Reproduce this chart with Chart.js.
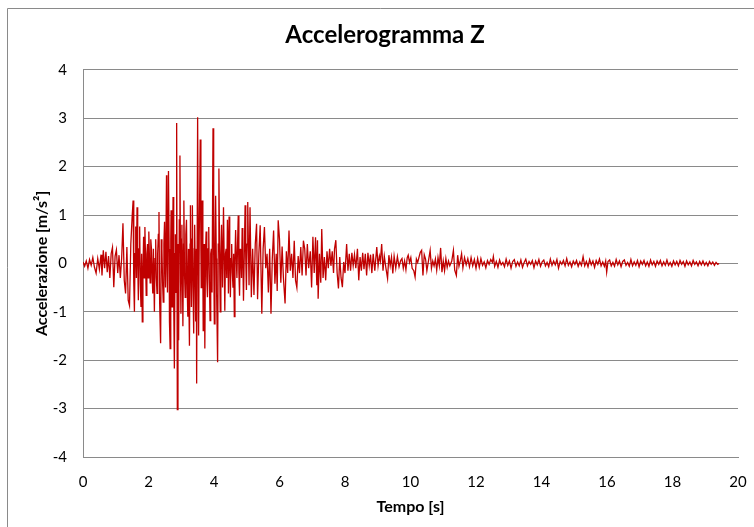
<!DOCTYPE html>
<html lang="it">
<head>
    <meta charset="UTF-8">
    <title>Accelerogramma Z</title>
    <script src="https://cdn.jsdelivr.net/npm/chart.js"></script>
    <style>
        body {
            margin: 0;
            background: #fff;
        }
        #chart {
            display: block;
        }
    </style>
</head>
<body>

    <canvas id="chart" width="754" height="527"></canvas>

    <script>

        // 0 - 1.5 s: inizio
        const tempoInizio = [
            0.00, 0.05, 0.10, 0.15, 0.20, 0.25, 0.30, 0.35, 0.40, 0.45,
            0.50, 0.55, 0.58, 0.62, 0.66, 0.70, 0.74, 0.78, 0.82, 0.86,
            0.90, 0.94, 0.98, 1.02, 1.06, 1.10, 1.14, 1.18, 1.22, 1.26,
            1.30, 1.34, 1.38, 1.42, 1.46
        ];
        const accInizio = [
            0.03, -0.06, 0.05, -0.10, 0.08, -0.04, 0.12, -0.08, -0.20, 0.10,
            -0.12, 0.18, -0.25, 0.27, -0.10, 0.24, -0.18, 0.15, -0.30, 0.20,
            0.33, -0.49, 0.15, 0.28, -0.20, 0.17, -0.30, 0.10, 0.83, -0.35,
            -0.62, 0.34, -0.76, -0.87, 0.40
        ];

        // 1.5 - 5 s: fase forte
        const tempoForte = [
            1.50, 1.53, 1.55, 1.57, 1.59, 1.61, 1.63, 1.65, 1.67, 1.69,
            1.71, 1.73, 1.75, 1.77, 1.79, 1.81, 1.83, 1.85, 1.87, 1.89,
            1.91, 1.93, 1.95, 1.97, 1.99, 2.01, 2.03, 2.05, 2.07, 2.09,
            2.11, 2.13, 2.15, 2.18, 2.20, 2.22, 2.24, 2.26, 2.28, 2.30,
            2.32, 2.34, 2.37, 2.39, 2.41, 2.43, 2.45, 2.47, 2.49, 2.51,
            2.52, 2.55, 2.56, 2.58, 2.61, 2.63, 2.64, 2.66, 2.68, 2.69,
            2.71, 2.72, 2.74, 2.75, 2.77, 2.79, 2.81, 2.82, 2.84, 2.86,
            2.88, 2.90, 2.92, 2.94, 2.96, 2.98, 2.99, 3.01, 3.02, 3.04,
            3.05, 3.07, 3.08, 3.10, 3.12, 3.14, 3.16, 3.18, 3.20, 3.22,
            3.23, 3.25, 3.27, 3.28, 3.30, 3.31, 3.33, 3.34, 3.36, 3.38,
            3.40, 3.41, 3.43, 3.44, 3.46, 3.47, 3.50, 3.52, 3.53, 3.55,
            3.58, 3.60, 3.61, 3.63, 3.64, 3.66, 3.67, 3.69, 3.70, 3.72,
            3.74, 3.76, 3.78, 3.80, 3.82, 3.84, 3.86, 3.88, 3.90, 3.92,
            3.94, 3.97, 3.99, 4.01, 4.03, 4.05, 4.07, 4.08, 4.11, 4.13,
            4.15, 4.17, 4.19, 4.21, 4.23, 4.25, 4.26, 4.29, 4.31, 4.33,
            4.35, 4.37, 4.39, 4.41, 4.43, 4.44, 4.46, 4.48, 4.50, 4.52,
            4.54, 4.56, 4.58, 4.60, 4.62, 4.64, 4.66, 4.68, 4.70, 4.72,
            4.74, 4.76, 4.78, 4.80, 4.82, 4.84, 4.86, 4.88, 4.90, 4.93,
            4.95, 4.97, 4.99, 5.01, 5.03
        ];
        const accForte = [
            0.96, 1.30, -0.40, -1.00, 0.20, 0.76, -0.30, 1.16, 0.10, -0.76,
            0.30, 0.76, -0.40, -0.90, 0.20, -1.21, -0.20, 0.55, -0.30, 0.75,
            0.10, -0.66, 0.20, 0.40, -0.30, 0.66, 0.10, -0.40, 0.50, 0.30,
            -0.20, -0.62, 0.30, -1.00, 0.10, 0.50, -0.30, -0.62, 0.20, 0.60,
            1.06, -0.80, -1.65, 0.50, 0.30, -0.40, -0.80, 0.40, 0.86, -0.20,
            -0.50, 1.82, 0.20, -0.60, 1.91, 0.30, -1.20, -1.76, 0.50, 1.10,
            -0.30, -0.90, 0.50, 1.37, -0.80, -2.17, 0.20, 0.60, -0.60, 2.90,
            -3.02, 0.40, -1.59, 0.90, 2.23, -0.40, -1.04, 0.50, 0.80, -0.50,
            -1.30, 0.40, 1.30, -0.20, -0.70, 0.60, 0.90, -0.40, -1.10, 0.30,
            -0.60, -1.70, 0.40, 1.20, -0.20, -0.90, 0.50, 1.20, -0.50, -1.45,
            0.30, 0.80, -0.40, -1.20, 0.30, -2.48, 3.02, 0.20, -1.49, 0.60,
            2.56, 0.30, -0.50, 0.50, 1.30, -0.20, -1.39, 0.20, 0.40, -1.76,
            0.20, 0.66, -0.30, -0.70, 0.30, 0.75, -0.40, -1.18, 0.20, 0.30,
            -0.60, 2.79, 0.20, -1.25, 0.40, 1.40, 0.10, -0.60, -2.04, 0.40,
            1.96, 0.20, -1.00, 0.20, 0.80, -0.10, -0.50, 1.16, 0.10, -0.98,
            0.20, 0.30, -0.30, 0.90, 0.10, -0.62, 0.97, 0.10, -0.70, 0.10,
            0.40, -0.20, -0.50, 0.20, -1.10, 0.10, 0.69, 0.10, -0.30, 0.40,
            0.99, -0.20, -0.67, 0.30, 0.20, -0.30, 0.73, 0.10, -0.77, 0.40,
            1.20, 0.10, -0.55, 0.40, 1.27
        ];

        // 5 - 12 s: smorzamento
        const tempoMedio = [
            5.07, 5.10, 5.14, 5.18, 5.22, 5.26, 5.30, 5.33, 5.37, 5.41,
            5.46, 5.50, 5.54, 5.58, 5.62, 5.66, 5.70, 5.74, 5.78, 5.82,
            5.86, 5.90, 5.93, 5.96, 6.00, 6.04, 6.08, 6.12, 6.17, 6.21,
            6.25, 6.29, 6.33, 6.37, 6.41, 6.45, 6.49, 6.53, 6.57, 6.61,
            6.65, 6.69, 6.73, 6.77, 6.81, 6.85, 6.89, 6.94, 6.98, 7.02,
            7.06, 7.10, 7.14, 7.16, 7.18, 7.22, 7.26, 7.29, 7.33, 7.37,
            7.41, 7.45, 7.49, 7.53, 7.57, 7.61, 7.65, 7.68, 7.72, 7.76,
            7.80, 7.84, 7.88, 7.92, 7.96, 8.00, 8.05, 8.09, 8.13, 8.17,
            8.21, 8.25, 8.29, 8.33, 8.38, 8.42, 8.46, 8.50, 8.54, 8.58,
            8.62, 8.66, 8.70, 8.74, 8.78, 8.82, 8.86, 8.91, 8.97, 9.01,
            9.05, 9.08, 9.12, 9.16, 9.20, 9.25, 9.30, 9.34, 9.38, 9.42,
            9.46, 9.50, 9.55, 9.60, 9.65, 9.70, 9.74, 9.78, 9.82, 9.86,
            9.90, 9.93, 9.97, 10.01, 10.05, 10.10, 10.14, 10.18, 10.22, 10.26,
            10.30, 10.34, 10.38, 10.42, 10.46, 10.50, 10.56, 10.60, 10.64, 10.68,
            10.72, 10.76, 10.80, 10.84, 10.88, 10.92, 10.96, 11.00, 11.04, 11.08,
            11.12, 11.16, 11.20, 11.26, 11.31, 11.35, 11.40, 11.44, 11.48, 11.52,
            11.56, 11.60, 11.65, 11.70, 11.75, 11.80, 11.85, 11.90, 11.95, 12.00,
            12.05, 12.10
        ];
        const accMedio = [
            -0.45, 1.16, -0.70, 0.30, -0.65, 0.40, 0.82, -0.74, 0.20, 0.79,
            -1.04, 0.30, 0.75, -0.10, 0.20, -0.60, 0.30, -1.04, 0.10, 0.68,
            -0.42, 0.20, -0.57, 0.89, 0.50, -0.40, 0.35, -0.30, -0.83, 0.25,
            -0.20, 0.68, -0.15, 0.20, -0.30, 0.47, -0.35, -0.50, 0.15, -0.20,
            0.34, -0.25, 0.47, 0.30, -0.25, 0.40, -0.10, 0.25, -0.50, 0.55,
            -0.20, 0.54, -0.45, 0.48, -0.73, 0.20, -0.40, 0.71, -0.30, 0.13,
            -0.35, 0.25, -0.10, 0.30, -0.05, 0.25, -0.20, 0.30, 0.48, -0.20,
            -0.52, 0.13, -0.30, -0.49, 0.03, -0.20, 0.40, -0.15, 0.20, -0.15,
            0.22, -0.05, 0.18, -0.10, 0.30, -0.35, 0.13, -0.15, 0.22, -0.12,
            0.20, -0.25, 0.22, -0.05, 0.18, -0.20, 0.20, -0.15, 0.34, -0.05,
            0.15, 0.05, 0.40, -0.15, 0.15, -0.10, -0.31, 0.17, -0.05, 0.13,
            -0.21, 0.15, -0.10, 0.14, -0.07, 0.06, 0.10, -0.10, 0.05, -0.13,
            0.12, 0.17, 0.02, 0.12, -0.10, -0.15, -0.28, 0.09, 0.02, 0.13,
            0.23, 0.27, -0.25, 0.18, 0.09, -0.15, 0.10, 0.27, -0.10, 0.05,
            -0.05, 0.09, -0.14, 0.12, -0.05, 0.32, -0.18, 0.05, -0.15, 0.10,
            -0.08, 0.05, -0.05, 0.05, 0.27, -0.14, -0.25, 0.17, -0.06, 0.05,
            0.20, -0.09, 0.12, -0.03, 0.10, -0.07, 0.12, -0.05, 0.08, -0.10,
            0.10, -0.08
        ];

        // 12 - 19.4 s: coda
        const tempoCoda = [
            12.15, 12.20, 12.25, 12.30, 12.35, 12.40, 12.45, 12.50, 12.53, 12.57,
            12.62, 12.67, 12.72, 12.77, 12.82, 12.87, 12.92, 12.97, 13.02, 13.07,
            13.12, 13.17, 13.22, 13.27, 13.32, 13.37, 13.42, 13.47, 13.52, 13.57,
            13.62, 13.67, 13.72, 13.77, 13.82, 13.87, 13.92, 13.97, 14.02, 14.07,
            14.12, 14.17, 14.22, 14.27, 14.32, 14.37, 14.42, 14.47, 14.52, 14.57,
            14.62, 14.67, 14.72, 14.77, 14.82, 14.87, 14.92, 14.97, 15.02, 15.07,
            15.12, 15.17, 15.22, 15.27, 15.32, 15.37, 15.42, 15.47, 15.52, 15.57,
            15.62, 15.67, 15.72, 15.77, 15.82, 15.87, 15.92, 15.96, 15.99, 16.03,
            16.08, 16.13, 16.18, 16.23, 16.28, 16.33, 16.38, 16.43, 16.48, 16.53,
            16.58, 16.63, 16.68, 16.73, 16.78, 16.83, 16.88, 16.93, 16.98, 17.03,
            17.08, 17.13, 17.18, 17.23, 17.28, 17.33, 17.38, 17.43, 17.48, 17.53,
            17.58, 17.63, 17.68, 17.73, 17.78, 17.83, 17.88, 17.93, 17.98, 18.03,
            18.08, 18.13, 18.18, 18.23, 18.28, 18.33, 18.38, 18.43, 18.48, 18.53,
            18.58, 18.63, 18.68, 18.73, 18.78, 18.83, 18.88, 18.93, 18.98, 19.03,
            19.08, 19.13, 19.18, 19.23, 19.28, 19.33, 19.38, 19.42
        ];
        const accCoda = [
            0.10, -0.04, 0.03, -0.09, 0.06, -0.02, 0.08, 0.02, 0.14, -0.06,
            0.04, -0.08, 0.07, -0.03, 0.02, -0.07, 0.09, -0.04, 0.05, -0.10,
            0.04, 0.08, -0.06, 0.03, -0.05, 0.07, -0.08, 0.02, 0.09, -0.05,
            0.04, -0.02, 0.06, -0.09, 0.05, -0.03, 0.08, -0.06, 0.03, 0.07,
            -0.05, 0.02, -0.07, 0.09, -0.04, 0.05, -0.03, 0.08, -0.10, 0.04,
            -0.02, 0.06, -0.05, 0.10, -0.04, 0.03, -0.07, 0.05, -0.02, 0.06,
            -0.06, 0.03, -0.04, 0.14, -0.05, 0.04, -0.07, 0.08, -0.03, 0.05,
            -0.08, 0.06, -0.02, 0.09, -0.05, 0.03, -0.06, 0.05, -0.18, 0.04,
            0.07, -0.05, 0.02, -0.06, 0.08, -0.03, 0.05, -0.07, 0.04, 0.07,
            -0.04, 0.02, -0.06, 0.08, -0.05, 0.03, -0.04, 0.06, -0.07, 0.05,
            -0.02, 0.06, -0.05, 0.03, -0.06, 0.07, -0.03, 0.04, -0.06, 0.05,
            -0.02, 0.06, -0.05, 0.03, -0.04, 0.07, -0.04, 0.02, -0.06, 0.05,
            -0.03, 0.04, -0.05, 0.06, -0.02, 0.04, -0.06, 0.05, -0.03, 0.03,
            -0.05, 0.06, -0.02, 0.03, -0.05, 0.04, -0.03, 0.05, -0.04, 0.02,
            -0.05, 0.04, -0.02, 0.03, -0.04, 0.02, -0.02, 0.00
        ];

        const tempo = [...tempoInizio, ...tempoForte, ...tempoMedio, ...tempoCoda];
        const accelerazione = [...accInizio, ...accForte, ...accMedio, ...accCoda];

        const titolo = 'Accelerogramma Z';
        const titoloX = 'Tempo [s]';
        const titoloY = 'Accelerazione [m/s²]';

        const grigio = '#8a8a8a';
        const font = "Lato, 'Liberation Sans', sans-serif";

        // cornice del grafico (bordo sinistro e superiore)
        const cornice = {
            id: 'cornice',
            beforeDraw(chart) {
                const ctx = chart.ctx;
                ctx.save();
                ctx.strokeStyle = grigio;
                ctx.lineWidth = 1;
                ctx.beginPath();
                ctx.moveTo(7.5, chart.height);
                ctx.lineTo(7.5, 8.5);
                ctx.lineTo(chart.width, 8.5);
                ctx.stroke();
                ctx.restore();
            }
        };

        const punti = tempo.map((t, i) => ({ x: t, y: accelerazione[i] }));

        new Chart(document.getElementById('chart'), {
            type: 'line',
            data: {
                datasets: [{
                    data: punti,
                    borderColor: '#c00000',
                    borderWidth: 1.3,
                    pointRadius: 0,
                    tension: 0
                }]
            },
            options: {
                responsive: false,
                animation: false,
                devicePixelRatio: 1,
                layout: {
                    padding: { left: 32, right: 16, top: 8, bottom: 8 }
                },
                plugins: {
                    legend: { display: false },
                    tooltip: { enabled: false },
                    title: {
                        display: true,
                        text: titolo,
                        color: '#000',
                        font: { family: font, size: 24, weight: 'bold' },
                        padding: { top: 13, bottom: 20 }
                    }
                },
                scales: {
                    x: {
                        type: 'linear',
                        min: 0,
                        max: 20,
                        grid: { display: false, drawTicks: true, tickLength: 14 },
                        border: { display: true, color: grigio },
                        ticks: {
                            stepSize: 2,
                            padding: 2,
                            color: '#000',
                            font: { family: font, size: 15 }
                        },
                        title: {
                            display: true,
                            text: titoloX,
                            color: '#000',
                            font: { family: font, size: 16, weight: 'bold' },
                            padding: { top: 2, bottom: 3 }
                        },
                        afterFit: s => { s.height = 62; }
                    },
                    y: {
                        min: -4,
                        max: 4,
                        grid: { color: grigio, drawTicks: false },
                        border: { color: grigio },
                        ticks: {
                            stepSize: 1,
                            padding: 16,
                            color: '#000',
                            font: { family: font, size: 15 }
                        },
                        title: {
                            display: true,
                            text: titoloY,
                            color: '#000',
                            font: { family: font, size: 16, weight: 'bold' },
                            padding: { top: 0, bottom: 2 }
                        },
                        afterFit: s => { s.width = 51; }
                    }
                }
            },
            plugins: [cornice]
        });
    </script>

</body>
</html>
